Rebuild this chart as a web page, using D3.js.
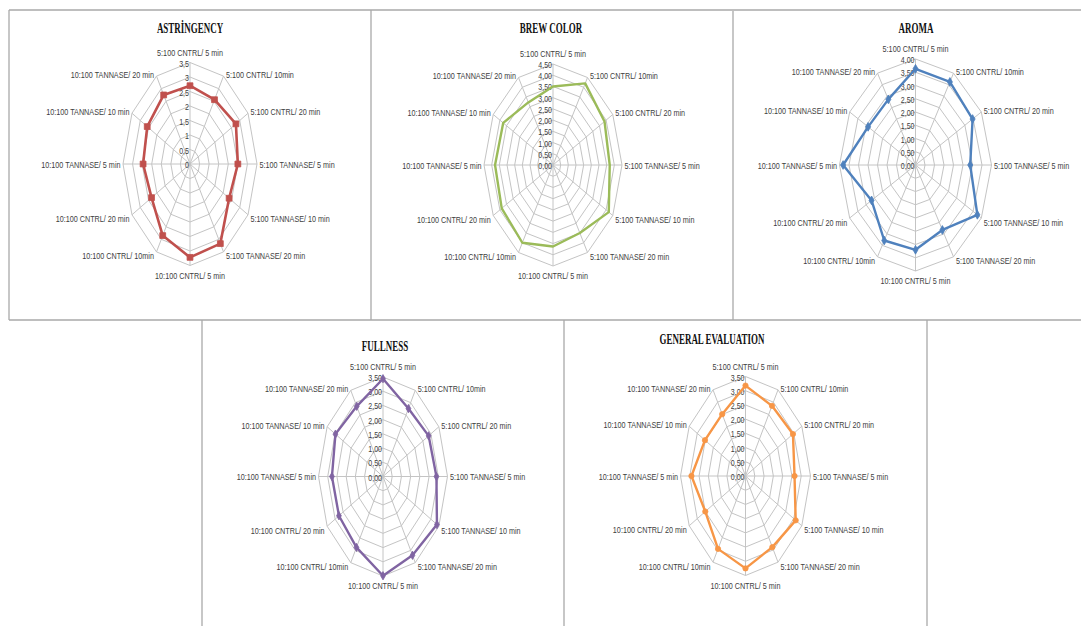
<!DOCTYPE html>
<html><head><meta charset="utf-8">
<script src="https://cdn.jsdelivr.net/npm/d3@7"></script>
<style>body{margin:0;background:#fff}svg{display:block}</style>
</head><body>
<svg id="c" width="1081" height="626"></svg>
<script>
const categories = [
  "5:100 CNTRL/ 5 min", "5:100 CNTRL/ 10min", "5:100 CNTRL/ 20 min",
  "5:100 TANNASE/ 5 min", "5:100 TANNASE/ 10 min", "5:100 TANNASE/ 20 min",
  "10:100 CNTRL/ 5 min", "10:100 CNTRL/ 10min", "10:100 CNTRL/ 20 min",
  "10:100 TANNASE/ 5 min", "10:100 TANNASE/ 10 min", "10:100 TANNASE/ 20 min"
];
const titles = ["ASTRİNGENCY", "BREW COLOR", "AROMA", "FULLNESS", "GENERAL EVALUATION"];
const astringency = [2.7, 2.56, 2.77, 2.5, 2.36, 3.17, 3.22, 2.85, 2.32, 2.45, 2.58, 2.75];
const brewColor = [3.5, 4.2, 3.88, 3.7, 4.2, 3.5, 3.63, 4.0, 3.86, 3.78, 3.75, 3.22];
const aroma = [3.63, 3.62, 3.47, 2.88, 3.76, 2.83, 3.2, 3.29, 2.67, 3.81, 2.88, 2.86];
const fullness = [3.44, 2.76, 2.86, 2.9, 3.38, 3.2, 3.49, 2.88, 2.76, 2.77, 2.98, 2.85];
const generalEvaluation = [3.18, 2.85, 2.95, 2.64, 3.12, 2.89, 3.25, 2.96, 2.5, 2.91, 2.52, 2.51];
const astringencyTicks = ["0", "0,5", "1", "1,5", "2", "2,5", "3", "3,5"];
const brewColorTicks = ["0,00", "0,50", "1,00", "1,50", "2,00", "2,50", "3,00", "3,50", "4,00", "4,50"];
const aromaTicks = ["0,00", "0,50", "1,00", "1,50", "2,00", "2,50", "3,00", "3,50", "4,00"];
const fullnessTicks = ["0,00", "0,50", "1,00", "1,50", "2,00", "2,50", "3,00", "3,50"];
const generalTicks = ["0,00", "0,50", "1,00", "1,50", "2,00", "2,50", "3,00", "3,50"];

const panels = [
  {title: titles[0], values: astringency, ticks: astringencyTicks, color: "#c0504d", marker: "square", msize: 34, lw: 2.6,
   cx: 190, cy: 164, rx: 67, ry: 101.5, tx: 190, ty: 33},
  {title: titles[1], values: brewColor, ticks: brewColorTicks, color: "#9bbb59", marker: null, msize: 0, lw: 2.4,
   cx: 553, cy: 165, rx: 69, ry: 101, tx: 551, ty: 33},
  {title: titles[2], values: aroma, ticks: aromaTicks, color: "#4f81bd", marker: "diamond", msize: 22, lw: 2.4,
   cx: 915.5, cy: 165, rx: 76, ry: 106, tx: 916, ty: 33},
  {title: titles[3], values: fullness, ticks: fullnessTicks, color: "#8064a2", marker: "diamond", msize: 20, lw: 2.4,
   cx: 383, cy: 476.5, rx: 64.5, ry: 99.5, tx: 385, ty: 351},
  {title: titles[4], values: generalEvaluation, ticks: generalTicks, color: "#f79646", marker: "circle", msize: 22, lw: 2.4,
   cx: 745.5, cy: 476, rx: 65, ry: 99.5, tx: 712, ty: 344}
];

const svg = d3.select("#c");

// panel frames
const frame = svg.append("g").attr("stroke", "#a9a9a9").attr("stroke-width", 1.3).attr("fill", "none");
[[9,10,9,320],[9,10,1081,10],[9,320,1081,320],[371,10,371,320],[733,11,733,320],
 [202,320,202,626],[564,320,564,626],[927,320,927,626]].forEach(l =>
  frame.append("line").attr("x1", l[0]).attr("y1", l[1]).attr("x2", l[2]).attr("y2", l[3]));

const n = categories.length;
const angle = d3.scaleLinear().domain([0, n]).range([0, 2 * Math.PI]);

panels.forEach(p => {
  const max = parseFloat(p.ticks[p.ticks.length - 1].replace(",", "."));
  const tickVals = p.ticks.map(t => parseFloat(t.replace(",", ".")));
  const r = d3.scaleLinear().domain([0, max]).range([0, 1]);
  const px = (i, v) => p.cx + p.rx * r(v) * Math.sin(angle(i));
  const py = (i, v) => p.cy - p.ry * r(v) * Math.cos(angle(i));
  const g = svg.append("g");

  // rings
  const ring = d3.line().curve(d3.curveLinearClosed);
  tickVals.filter(t => t > 0).forEach(t => {
    g.append("path")
      .attr("d", ring(d3.range(n).map(i => [px(i, t), py(i, t)])))
      .attr("fill", "none").attr("stroke", "#c4c4c4").attr("stroke-width", 1);
  });
  // spokes
  d3.range(n).forEach(i => {
    g.append("line").attr("x1", p.cx).attr("y1", p.cy)
      .attr("x2", px(i, max)).attr("y2", py(i, max))
      .attr("stroke", "#c4c4c4").attr("stroke-width", 1);
  });

  // tick labels
  tickVals.forEach((t, k) => {
    g.append("text")
      .attr("transform", `translate(${p.cx - 1},${py(0, t) + 1}) scale(0.82,1)`)
      .attr("text-anchor", "end").attr("dy", "0.35em")
      .attr("font-family", "Liberation Sans, Arial, sans-serif").attr("font-size", 8.6)
      .attr("fill", "#404040").text(p.ticks[k]);
  });

  // series
  const line = d3.line().x(d => px(d.i, d.v)).y(d => py(d.i, d.v)).curve(d3.curveLinearClosed);
  const pts = p.values.map((v, i) => ({i, v}));
  g.append("path").attr("d", line(pts)).attr("fill", "none")
    .attr("stroke", p.color).attr("stroke-width", p.lw).attr("stroke-linejoin", "round");
  if (p.marker) {
    const type = p.marker === "square" ? d3.symbolSquare : p.marker === "diamond" ? d3.symbolDiamond : d3.symbolCircle;
    const sym = d3.symbol().type(type).size(p.msize);
    pts.forEach(d => {
      g.append("path").attr("d", sym())
        .attr("transform", `translate(${px(d.i, d.v)},${py(d.i, d.v)})`)
        .attr("fill", p.color).attr("stroke", p.color).attr("stroke-width", 0.8);
    });
  }

  // category labels
  categories.forEach((c, i) => {
    const ex = px(i, max), ey = py(i, max);
    let anchor = "middle", dx = 0, dy = 0;
    if (i === 0) { dy = -10; }
    else if (i === 6) { dy = 10; }
    else {
      anchor = i < 6 ? "start" : "end";
      dx = i < 6 ? 2.5 : -2.5;
      const a = i % 6;
      dy = (i === 3 || i === 9) ? 0.5 : ((i === 1 || i === 2 || i === 10 || i === 11) ? -1.2 : 4.5);
    }
    g.append("text")
      .attr("transform", `translate(${ex + dx},${ey + dy}) scale(0.84,1)`)
      .attr("text-anchor", anchor).attr("dy", "0.35em")
      .attr("font-family", "Liberation Sans, Arial, sans-serif").attr("font-size", 8.6)
      .attr("fill", "#404040").text(c);
  });

  // title
  g.append("text")
    .attr("transform", `translate(${p.tx},${p.ty}) scale(0.64,1)`)
    .attr("text-anchor", "middle")
    .attr("font-family", "Liberation Serif, Times New Roman, serif").attr("font-weight", "bold")
    .attr("font-size", 14).attr("fill", "#111").text(p.title);
});
</script>
</body></html>
